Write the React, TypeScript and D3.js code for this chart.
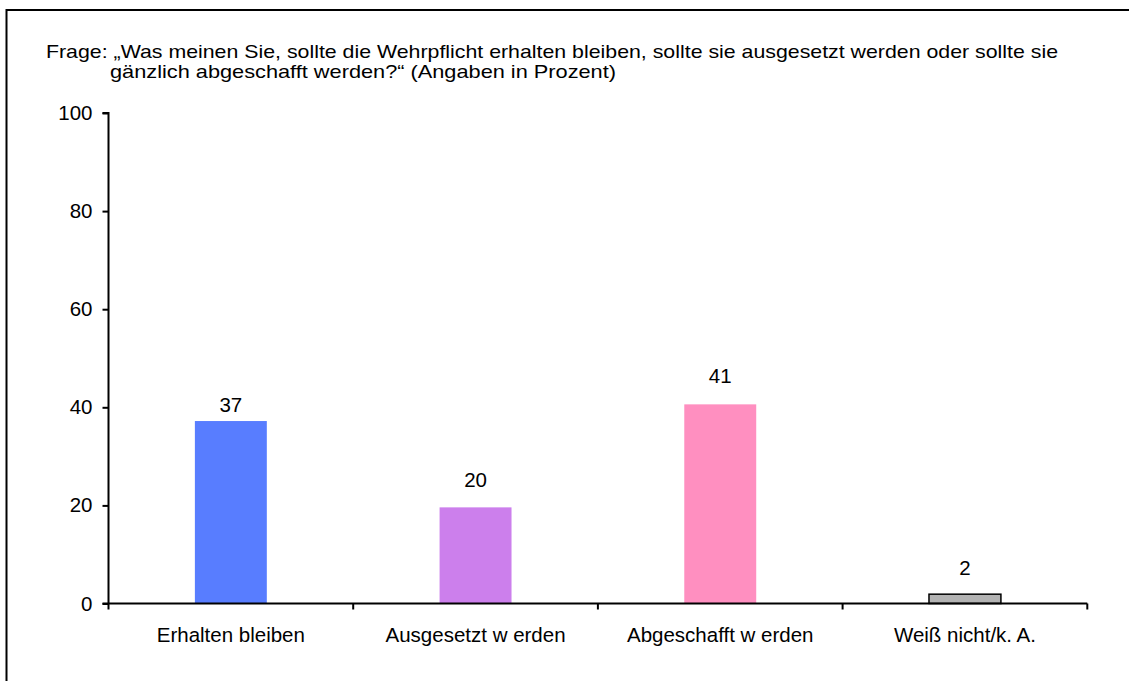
import React, { useEffect, useRef } from 'react'
import * as d3 from 'd3'

const categories = ['Erhalten bleiben', 'Ausgesetzt w erden', 'Abgeschafft w erden', 'Weiß nicht/k. A.']
const values = [37.2, 19.6, 40.6, 1.9]
const valueLabels = ['37', '20', '41', '2']
const barColors = ['#587DFF', '#CC7FEC', '#FF8FC0', '#B3B3B3']
const barStrokes = ['none', 'none', 'none', '#000']
const yTicks = [0, 20, 40, 60, 80, 100]
const titleLines = [
	'Frage: „Was meinen Sie, sollte die Wehrpflicht erhalten bleiben, sollte sie ausgesetzt werden oder sollte sie',
	'gänzlich abgeschafft werden?“ (Angaben in Prozent)',
]

// Excel put the labels at slightly different distances from the bars
const labelGap = [9, 20, 21, 19]

const W = 1129
const H = 681
const FONT = '"Liberation Sans", Arial, sans-serif'
const FS = 20.5
const TITLE_FS = 19

export default function App() {
	const ref = useRef<SVGSVGElement>(null)

	useEffect(() => {
		const svg = d3.select(ref.current)
		svg.selectAll('*').remove()

		// outer frame (right and bottom edges run off the picture)
		svg
			.append('rect')
			.attr('x', 6.5)
			.attr('y', 10)
			.attr('width', W + 20)
			.attr('height', H + 20)
			.attr('fill', 'none')
			.attr('stroke', '#000')
			.attr('stroke-width', 2)

		// title glyphs are a bit wide in the original, stretch them to the same span
		const title = svg
			.append('g')
			.attr('font-family', FONT)
			.attr('font-size', TITLE_FS)
			.attr('fill', '#000')
		title
			.append('text')
			.attr('x', 46)
			.attr('y', 58)
			.attr('textLength', 1012)
			.attr('lengthAdjust', 'spacingAndGlyphs')
			.text(titleLines[0])
		title
			.append('text')
			.attr('x', 110)
			.attr('y', 78)
			.attr('textLength', 506)
			.attr('lengthAdjust', 'spacingAndGlyphs')
			.text(titleLines[1])

		const x = d3.scaleBand<string>().domain(categories).range([108.5, 1087.3]).paddingInner(0).paddingOuter(0)
		const y = d3.scaleLinear().domain([0, 100]).range([603.5, 113])

		const barW = x.bandwidth() * 0.294

		const bars = svg.append('g')
		bars
			.selectAll('rect')
			.data(values)
			.enter()
			.append('rect')
			.attr('x', (d, i) => (x(categories[i]) as number) + x.bandwidth() / 2 - barW / 2)
			.attr('y', (d) => y(d))
			.attr('width', barW)
			.attr('height', (d) => y(0) - y(d))
			.attr('fill', (d, i) => barColors[i])
			.attr('stroke', (d, i) => barStrokes[i])
			.attr('stroke-width', 1.5)

		bars
			.selectAll('text')
			.data(values)
			.enter()
			.append('text')
			.attr('x', (d, i) => (x(categories[i]) as number) + x.bandwidth() / 2)
			.attr('y', (d, i) => y(d) - labelGap[i])
			.attr('text-anchor', 'middle')
			.attr('font-family', FONT)
			.attr('font-size', FS)
			.text((d, i) => valueLabels[i])

		// y axis
		const yAxis = svg
			.append('g')
			.attr('transform', `translate(${x.range()[0]},0)`)
			.call(d3.axisLeft(y).tickValues(yTicks).tickSize(6).tickPadding(10))
		yAxis.selectAll('path, line').attr('stroke', '#000').attr('stroke-width', 2)
		yAxis.select('.domain').attr('d', `M-6,${y(100)}H0V${y(0)}`)
		yAxis.selectAll('text').attr('font-family', FONT).attr('font-size', FS).attr('fill', '#000')

		// x axis with ticks on the category boundaries
		const xAxis = svg.append('g').attr('transform', `translate(0,${y(0)})`)
		xAxis
			.append('line')
			.attr('x1', x.range()[0] - 6)
			.attr('x2', x.range()[1])
			.attr('stroke', '#000')
			.attr('stroke-width', 2)
		const bounds = [x.range()[0], ...categories.map((c) => (x(c) as number) + x.bandwidth())]
		xAxis
			.selectAll('.tick-b')
			.data(bounds)
			.enter()
			.append('line')
			.attr('x1', (d) => d)
			.attr('x2', (d) => d)
			.attr('y1', 0)
			.attr('y2', 6)
			.attr('stroke', '#000')
			.attr('stroke-width', 2)
		xAxis
			.selectAll('.lbl')
			.data(categories)
			.enter()
			.append('text')
			.attr('x', (d) => (x(d) as number) + x.bandwidth() / 2)
			.attr('y', 38.5)
			.attr('text-anchor', 'middle')
			.attr('font-family', FONT)
			.attr('font-size', FS)
			.text((d) => d)
	}, [])

	return (
		<svg
			ref={ref}
			width={W}
			height={H}
			viewBox={`0 0 ${W} ${H}`}
			style={{ position: 'absolute', left: 0, top: 0, background: '#fff' }}
		/>
	)
}
